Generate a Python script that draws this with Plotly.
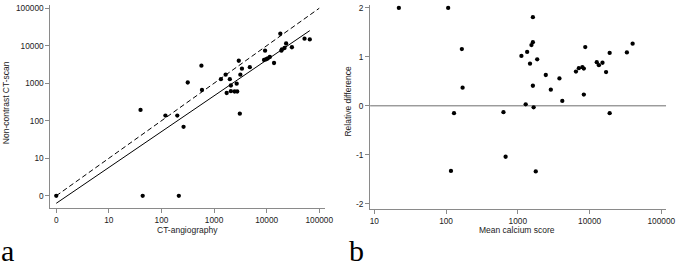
import numpy as np
import plotly.graph_objects as go

# ---------------- data ----------------
# Panel a: CT-angiography vs non-contrast CT-scan calcium score
cta_score = [40, 119, 200, 263, 316, 575, 589, 1349, 1660, 1995, 1738, 2089, 2089,
             2455, 2754, 2692, 3090, 3162, 3388, 2951, 4786, 9333, 8913, 9772,
             10471, 11482, 13804, 18197, 19055, 19498, 21878, 23442, 30200,
             52481, 66069, 0, 44, 214]
ncct_score = [195, 138, 138, 69, 1047, 2951, 661, 1288, 1698, 1288, 550, 871, 617,
              603, 603, 977, 155, 1698, 2455, 3981, 2692, 7413, 4169, 4365,
              4571, 5012, 3467, 20893, 7413, 7943, 8710, 11482, 9120,
              15488, 14791, 0, 0, 0]
# regression line (log10 scale)
fit_intercept = -0.2
fit_slope = 0.955

# Panel b: mean calcium score vs relative difference
mean_score = [22, 107, 166, 170, 129, 631, 1122, 1349, 1479, 1549, 1622, 1622, 1862,
              1622, 1288, 1660, 2455, 2884, 3802, 4169, 6457, 7079, 7943, 8318,
              8710, 8318, 12589, 13490, 15136, 16982, 19055, 19055, 33113, 39811,
              117, 676, 1778]
rel_diff = [2.0, 2.0, 1.16, 0.37, -0.15, -0.13, 1.02, 1.10, 0.86, 1.24, 1.30, 1.81, 0.95,
            0.41, 0.03, -0.03, 0.63, 0.33, 0.56, 0.10, 0.70, 0.77, 0.79, 0.76,
            1.20, 0.23, 0.89, 0.83, 0.88, 0.69, 1.08, -0.15, 1.09, 1.27,
            -1.33, -1.04, -1.34]

a_tick_labels = ["0", "10", "100", "1000", "10000", "100000"]
b_x_tick_labels = ["10", "100", "1000", "10000", "100000"]
b_y_tick_labels = ["-2", "-1", "0", "1", "2"]


def lg(v):
    v = np.asarray(v, dtype=float)
    return np.log10(np.where(v > 0, v, 1.0))


W, H = 685, 261


def px(x):
    return x / W


def py(y):
    return 1 - y / H


AX = "#8a8a8a"
TXT = "#222222"
FONT = "Liberation Sans"
TF = 8.3

fig = go.Figure()

ax_a = lg(cta_score)
ay_a = lg(ncct_score)

# identity line (dashed)
ident = np.array([0.0, len(a_tick_labels) - 1.0])
fig.add_trace(go.Scatter(x=ident, y=ident, mode="lines",
                         line=dict(color="black", width=1, dash="5px,3px"),
                         xaxis="x", yaxis="y", showlegend=False, hoverinfo="skip"))
# regression line (solid)
fx = np.array([0.0, ax_a.max()])
fig.add_trace(go.Scatter(x=fx, y=fit_intercept + fit_slope * fx, mode="lines",
                         line=dict(color="black", width=1),
                         xaxis="x", yaxis="y", showlegend=False, hoverinfo="skip"))
fig.add_trace(go.Scatter(x=ax_a, y=ay_a, mode="markers",
                         marker=dict(color="black", size=4.3),
                         xaxis="x", yaxis="y", showlegend=False))

bx = lg(mean_score)
# zero reference line
zr = [0.941, 5.067]
fig.add_trace(go.Scatter(x=zr, y=[0, 0], mode="lines",
                         line=dict(color="#6e6e6e", width=1),
                         xaxis="x2", yaxis="y2", showlegend=False, hoverinfo="skip"))
fig.add_trace(go.Scatter(x=bx, y=rel_diff, mode="markers",
                         marker=dict(color="black", size=4.3),
                         xaxis="x2", yaxis="y2", showlegend=False))

common = dict(showgrid=False, zeroline=False, showline=True, linecolor=AX, linewidth=1,
              ticks="outside", ticklen=4, tickcolor=AX, tickwidth=1,
              tickfont=dict(family=FONT, size=TF, color=TXT), fixedrange=True)

fig.update_layout(
    width=W, height=H,
    margin=dict(l=0, r=0, t=0, b=0),
    paper_bgcolor="white", plot_bgcolor="white",
    xaxis=dict(domain=[px(51), px(329)], range=[-0.1126, 5.103], anchor="y",
               tickmode="array", tickvals=list(range(6)), ticktext=a_tick_labels, **common),
    yaxis=dict(domain=[py(208), py(3)], range=[-0.336, 5.087], anchor="x",
               tickmode="array", tickvals=list(range(6)), ticktext=a_tick_labels, **common),
    xaxis2=dict(domain=[px(375), px(675)], range=[0.941, 5.067], anchor="y2",
                tickmode="array", tickvals=[1, 2, 3, 4, 5], ticktext=b_x_tick_labels, **common),
    yaxis2=dict(domain=[py(209), py(3)], range=[-2.116, 2.06], anchor="x2",
                tickmode="array", tickvals=[-2, -1, 0, 1, 2], ticktext=b_y_tick_labels, **common),
)

tfont = dict(family=FONT, size=8.5, color=TXT)
ann = [
    dict(text="CT-angiography", x=px(190), y=py(229.5), xanchor="center", yanchor="middle", font=tfont),
    dict(text="Non-contrast CT-scan", x=px(6), y=py(101), xanchor="center", yanchor="middle",
         textangle=-90, font=tfont),
    dict(text="Mean calcium score", x=px(524), y=py(229.5), xanchor="center", yanchor="middle", font=tfont),
    dict(text="Relative difference", x=px(353), y=py(100), xanchor="center", yanchor="middle",
         textangle=-90, font=tfont),
    dict(text="a", x=px(-1), y=py(250), xanchor="left", yanchor="middle",
         font=dict(family="Liberation Serif", size=30, color="black")),
    dict(text="b", x=px(352), y=py(250), xanchor="left", yanchor="middle",
         font=dict(family="Liberation Serif", size=30, color="black")),
]
for a in ann:
    a.update(xref="paper", yref="paper", showarrow=False)
fig.update_layout(annotations=ann)

fig.write_html("out.html", config={"displayModeBar": False},
               post_script="document.body.style.margin='0';document.body.style.overflow='hidden';")
